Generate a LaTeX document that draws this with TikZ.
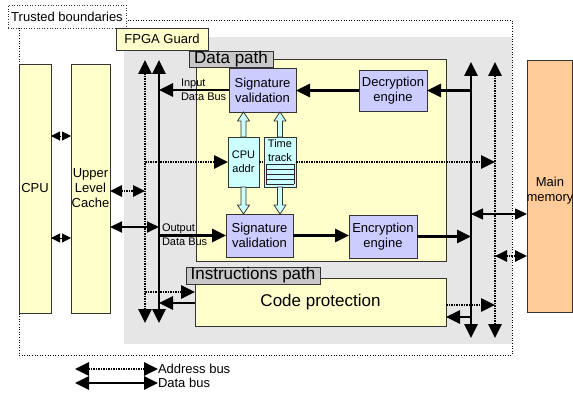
\documentclass[tikz,border=0pt]{standalone}
\usepackage{fontspec}
\setmainfont{Liberation Sans}
\usetikzlibrary{arrows.meta,calc}
\definecolor{ylw}{HTML}{FFFFCC}
\definecolor{gry}{HTML}{E6E6E6}
\definecolor{lav}{HTML}{CCCCFF}
\definecolor{cyn}{HTML}{CCFFFF}
\definecolor{org}{HTML}{FFCC99}
\definecolor{lblgry}{HTML}{C8C8C8}
\tikzset{
  every node/.style={inner sep=0pt, outer sep=0pt},
  bx/.style={draw=black!80, line width=0.7pt},
  fnt/.style={font=\fontsize{13}{15}\selectfont},
  sfnt/.style={font=\fontsize{11}{14}\selectfont},
  bfnt/.style={font=\fontsize{17}{20}\selectfont},
  dbus/.style={line width=2.6pt},
  abus/.style={line width=2.6pt, dash pattern=on 1.6pt off 0.9pt},
  hd/.style={-{Triangle[length=14pt,width=13pt]}},
  hh/.style={{Triangle[length=14pt,width=13pt]}-{Triangle[length=14pt,width=13pt]}},
  hm/.style={{Triangle[length=12pt,width=11pt]}-{Triangle[length=12pt,width=11pt]}},
  hs/.style={{Triangle[length=9pt,width=9pt]}-{Triangle[length=9pt,width=9pt]}},
  fatar/.style={draw=black!80, fill=cyn, line width=0.7pt},
}
\newcommand\fatarrow[2]{%
  \draw[fatar] let \p1=(#1), \p2=(#2), \p3=($(#2)!9pt!(#1)$) in
    (\x1-2.5pt,\y1) -- (\x1-2.5pt,\y3) -- (\x1-6pt,\y3) -- (\x1,\y2)
    -- (\x1+6pt,\y3) -- (\x1+2.5pt,\y3) -- (\x1+2.5pt,\y1) -- cycle;}
\begin{document}
\begin{tikzpicture}[x=1pt,y=-1pt]
\useasboundingbox (0,0) rectangle (573,396);
% regions
\node[draw, dotted, line width=0.6pt, minimum width=493pt, minimum height=335pt] (trust) at (265.5,187.5) {};
\node[fill=gry, minimum width=388pt, minimum height=307pt] (fpga) at (318,190.5) {};
\node[draw=black!80, fill=white, dotted, line width=0.6pt, minimum width=118pt, minimum height=23pt, fnt] (tlabel) at (67,16.5) {Trusted boundaries};
\node[bx, fill=ylw, minimum width=92pt, minimum height=22pt, fnt] (flabel) at (162,39) {FPGA Guard};
\node[bx, fill=ylw, minimum width=250pt, minimum height=202pt] (dpath) at (321,160) {};
\node[bx, fill=lblgry, minimum width=84pt, minimum height=16pt, bfnt] (dlabel) at (231,59) {Data path};
\node[bx, fill=ylw, minimum width=251pt, minimum height=48pt, bfnt] (code) at (320.5,302) {Code protection};
\node[bx, fill=lblgry, minimum width=134pt, minimum height=17pt, bfnt] (ilabel) at (253,275.5) {Instructions path};
% blocks
\node[bx, fill=lav, minimum width=67pt, minimum height=44pt, fnt, align=center] (sv1) at (262.5,90) {Signature\\validation};
\node[bx, fill=lav, minimum width=68pt, minimum height=41pt, fnt, align=center] (dec) at (393,90.5) {Decryption\\engine};
\node[bx, fill=cyn, minimum width=31pt, minimum height=50pt, sfnt, align=center] (cpuaddr) at (243.5,162) {CPU\\addr};
\node[bx, fill=cyn, minimum width=32pt, minimum height=50pt] (tt) at (280,162) {};
\node[sfnt, align=center] (tttext) at (280,150.5) {Time\\track};
\foreach \yy in {164,169,174,179,184} \draw[line width=0.9pt, black!85] (266,\yy) -- (294,\yy);
\draw[line width=0.9pt, black!85] (266,164) -- (266,184) (294,164) -- (294,184);
\node[bx, fill=lav, minimum width=67pt, minimum height=43pt, fnt, align=center] (sv2) at (259.5,235.5) {Signature\\validation};
\node[bx, fill=lav, minimum width=68pt, minimum height=43pt, fnt, align=center] (enc) at (383,236.5) {Encryption\\engine};
\node[bx, fill=ylw, minimum width=32pt, minimum height=249pt, fnt] (cpu) at (35,188.5) {CPU};
\node[bx, fill=ylw, minimum width=39pt, minimum height=249pt, fnt, align=center] (cache) at (90.5,188.5) {Upper\\Level\\Cache};
\node[bx, fill=org, minimum width=45pt, minimum height=252pt] (mem) at (549.5,186) {};
\node[fnt, align=center] (memtext) at (550,191) {Main\\memory};
% buses
\coordinate (laT) at (145,60); \coordinate (laB) at (145,323);
\coordinate (ldT) at (159,60); \coordinate (ldB) at (159,323);
\coordinate (rdT) at (471,62); \coordinate (rdB) at (471,338);
\coordinate (raT) at (495,62); \coordinate (raB) at (495,338);
\draw[abus, hh] (laT) -- (laB);
\draw[dbus, hh] (ldT) -- (ldB);
\draw[dbus, hh] (rdT) -- (rdB);
\draw[abus, hh] (raT) -- (raB);
% data path connectors
\draw[dbus, hd] (sv1.west) -- (sv1.west -| ldT);
\draw[dbus, hd] (dec.west) -- (sv1.east |- dec.west);
\draw[dbus, hd] (rdT |- dec.east) -- (dec.east);
\draw[abus, hd] (laT |- cpuaddr.west) -- (cpuaddr.west);
\draw[abus] (cpuaddr.east) -- (tt.west);
\draw[abus, hd] (tt.east) -- (tt.east -| raT);
\draw[dbus, hd] (ldT |- sv2.west) -- (sv2.west);
\draw[dbus, hd] (sv2.east) -- (enc.west |- sv2.east);
\draw[dbus, hd] (enc.east) -- (rdT |- enc.east);
\fatarrow{cpuaddr.north}{sv1.south -| cpuaddr.north}
\fatarrow{tt.north}{sv1.south -| tt.north}
\fatarrow{cpuaddr.south}{sv2.north -| cpuaddr.south}
\fatarrow{tt.south}{sv2.north -| tt.south}
\node[sfnt, align=left, anchor=west] (inlbl) at (181,89.5) {Input\\Data Bus};
\node[sfnt, align=left, anchor=west] (outlbl) at (162,235) {Output\\Data Bus};
% cache / cpu connectors
\coordinate (c1) at (0,191); \coordinate (c2) at (0,227);
\coordinate (c3) at (0,136); \coordinate (c4) at (0,238);
\draw[abus, hm] (cache.east |- c1) -- (laT |- c1);
\draw[line width=2pt, hm] (cache.east |- c2) -- (ldT |- c2);
\draw[line width=1pt, dotted, hs] (cpu.east |- c3) -- (cache.west |- c3);
\draw[line width=1pt, hs] (cpu.east |- c4) -- (cache.west |- c4);
% main memory connectors
\coordinate (m1) at (0,214); \coordinate (m2) at (0,256);
\draw[line width=1.5pt, hm] (rdT |- m1) -- (mem.west |- m1);
\draw[abus, hm] (raT |- m2) -- (mem.west |- m2);
% code protection connectors
\coordinate (p1) at (0,292); \coordinate (p2) at (0,303);
\coordinate (p3) at (0,305); \coordinate (p4) at (0,317);
\draw[abus, hd] (laT |- p1) -- (code.west |- p1);
\draw[dbus, hd] (code.west |- p2) -- (ldT |- p2);
\draw[abus, hd] (code.east |- p3) -- (raT |- p3);
\draw[dbus, hd] (rdT |- p4) -- (code.east |- p4);
% legend
\coordinate (la1) at (75,369); \coordinate (la2) at (158,369);
\coordinate (ld1) at (75,383); \coordinate (ld2) at (158,383);
\draw[abus, hh] (la1) -- (la2);
\draw[dbus, hh] (ld1) -- (ld2);
\node[fnt, anchor=west] (albl) at (la2) {Address bus};
\node[fnt, anchor=west] (dlbl) at (ld2) {Data bus};
\end{tikzpicture}
\end{document}
